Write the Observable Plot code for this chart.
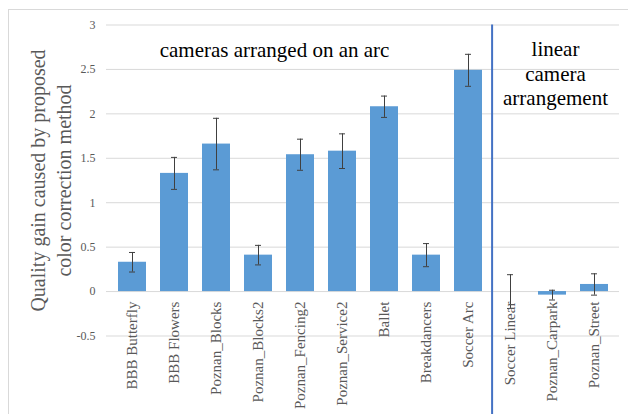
<!DOCTYPE html>
<html>
<head>
<meta charset="utf-8">
<script src="https://cdn.jsdelivr.net/npm/d3@7"></script>
<script src="https://cdn.jsdelivr.net/npm/@observablehq/plot@0.6"></script>
<style>
  html, body { margin: 0; padding: 0; background: #fff; }
  #wrap { position: relative; width: 628px; height: 414px; overflow: hidden; }
  #frame { position: absolute; left: 8px; top: 9px; width: 640px; height: 420px;
           border-top: 1px solid #d9d9d9; border-left: 1px solid #d9d9d9; pointer-events: none; }
  svg { display: block; }
  svg text, svg tspan { font-family: "Liberation Serif", "Times New Roman", serif; }
</style>
</head>
<body>
<div id="wrap"><div id="frame"></div></div>
<script>
const categories = ["BBB Butterfly", "BBB Flowers", "Poznan_Blocks", "Poznan_Blocks2", "Poznan_Fencing2",
  "Poznan_Service2", "Ballet", "Breakdancers", "Soccer Arc", "Soccer Linear", "Poznan_Carpark", "Poznan_Street"];
const values = [0.33, 1.33, 1.66, 0.41, 1.54, 1.58, 2.08, 0.41, 2.49, 0.00, -0.04, 0.08];
const errors = [0.11, 0.18, 0.29, 0.11, 0.175, 0.195, 0.12, 0.13, 0.18, 0.19, 0.055, 0.12];
const yTicks = [-0.5, 0, 0.5, 1, 1.5, 2, 2.5, 3];
const yLabel = "Quality gain caused by proposed\ncolor correction method";
const arcNote = {at: "Poznan_Blocks2", value: 2.72, text: "cameras arranged on an arc"};
const linearNote = {at: "Poznan_Carpark", value: 2.46, text: "linear\ncamera\narrangement"};
const dividerBefore = "Soccer Linear";

const data = categories.map((name, i) => ({name, value: values[i], err: errors[i]}));
const serif = "Liberation Serif";
const gray = "#595959";

const chart = Plot.plot({
  width: 628,
  height: 414,
  marginLeft: 106,
  marginRight: 9,
  marginTop: 24.5,
  marginBottom: 78.5,
  x: {domain: categories, paddingInner: 0.345, paddingOuter: 0.1725, axis: null},
  y: {domain: [-0.5, 3], axis: null},
  style: {background: "transparent", overflow: "visible"},
  marks: [
    Plot.ruleY(yTicks, {y: d => d, stroke: "#d9d9d9", strokeWidth: 1}),
    Plot.text(yTicks, {y: d => d, text: d => String(d), frameAnchor: "left", textAnchor: "end",
      dx: -11, fontSize: 12, fill: gray, fontFamily: serif}),
    Plot.barY(data, {x: "name", y: "value", fill: "#5B9BD5"}),
    Plot.ruleX(data, {x: "name", y1: d => d.value - d.err, y2: d => d.value + d.err, stroke: "#404040", strokeWidth: 1}),
    Plot.tickY(data, {x: "name", y: d => d.value - d.err, stroke: "#404040", insetLeft: 11, insetRight: 11}),
    Plot.tickY(data, {x: "name", y: d => d.value + d.err, stroke: "#404040", insetLeft: 11, insetRight: 11}),
    Plot.text(data, {x: "name", y: 0, text: "name", rotate: -90, textAnchor: "end", dy: 10,
      fontSize: 15, fill: gray, fontFamily: serif}),
    Plot.ruleX([dividerBefore], {x: d => d, y1: 3, y2: -1.45, dx: -18.4, stroke: "#4472C4", strokeWidth: 2}),
    Plot.text([arcNote], {x: "at", y: "value", text: "text", dx: 16, fontSize: 21, fill: "#000",
      lineAnchor: "middle", fontFamily: serif}),
    Plot.text([linearNote], {x: "at", y: "value", text: "text", dx: 3, fontSize: 21, fill: "#000",
      lineHeight: 1.17, lineAnchor: "middle", fontFamily: serif}),
    Plot.text([yLabel], {text: d => d, frameAnchor: "left", dx: -57, rotate: -90, fontSize: 20,
      fill: gray, lineHeight: 1.3, lineAnchor: "middle", textAnchor: "middle", fontFamily: serif})
  ]
});
document.getElementById("wrap").prepend(chart);
</script>
</body>
</html>
